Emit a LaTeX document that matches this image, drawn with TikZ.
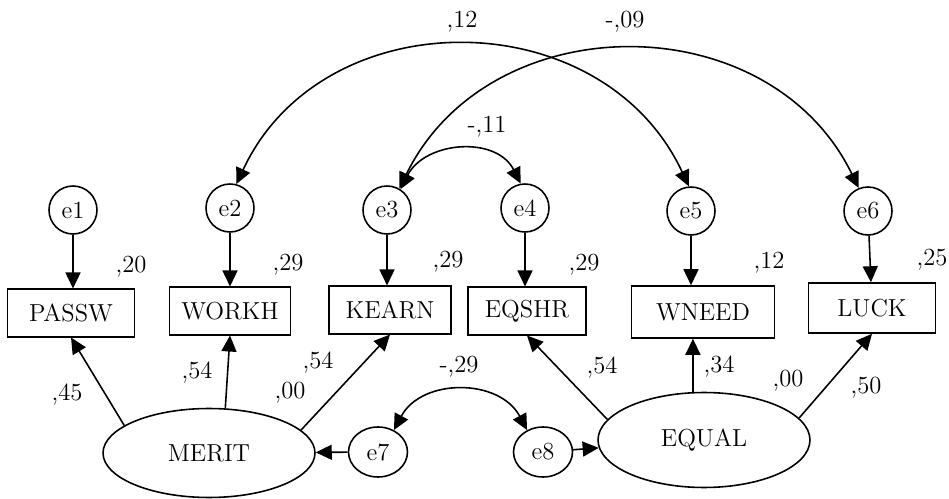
\documentclass[tikz,border=0pt]{standalone}
\usepackage{fontspec}
\usetikzlibrary{arrows.meta}
\usetikzlibrary{shapes.geometric}

\tikzset{
  every node/.style={font=\fontsize{14}{16}\selectfont},
  err/.style={draw,circle,line width=0.9pt,minimum size=0.96cm,inner sep=0pt},
  errb/.style={draw,ellipse,line width=0.9pt,minimum width=1.18cm,minimum height=1cm,inner sep=0pt},
  obs/.style={draw,rectangle,line width=0.9pt,minimum height=0.95cm},
  lat/.style={draw,ellipse,line width=0.9pt,minimum width=4.24cm,minimum height=1.78cm},
  reg/.style={line width=0.9pt,-{Triangle[length=3.2mm,width=3mm]}},
  cov/.style={line width=0.9pt,{Triangle[length=3.2mm,width=3mm]}-{Triangle[length=3.2mm,width=3mm]}},
  est/.style={inner sep=0pt}
}

\begin{document}
\begin{tikzpicture}[x=0.02cm,y=0.02cm]
\useasboundingbox (0,0) rectangle (949,-499);

% error terms
\node[err] (e1) at (73,-210) {e1};
\node[err] (e2) at (230,-208) {e2};
\node[err] (e3) at (387,-210) {e3};
\node[err] (e4) at (525,-208) {e4};
\node[err] (e5) at (691,-211) {e5};
\node[err] (e6) at (868,-211) {e6};

% observed
\node[obs,minimum width=2.54cm] (passw) at (71,-313) {PASSW};
\node[obs,minimum width=2.42cm] (workh) at (230,-311) {WORKH};
\node[obs,minimum width=2.44cm] (kearn) at (390,-310) {KEARN};
\node[obs,minimum width=2.36cm] (eqshr) at (527,-311) {EQSHR};
\node[obs,minimum width=2.86cm,minimum height=1.04cm] (wneed) at (703,-312) {WNEED};
\node[obs,minimum width=2.54cm,minimum height=1cm] (luck) at (872,-308) {LUCK};

% latent
\node[lat] (merit) at (209,-453) {MERIT};
\node[lat,minimum height=1.9cm] (equal) at (704,-440) {EQUAL};
\node[errb] (e7) at (378,-452) {e7};
\node[errb] (e8) at (543,-452) {e8};

\draw[reg] (e1) -- (e1 |- passw.north);
\draw[reg] (e2) -- (e2 |- workh.north);
\draw[reg] (e3) -- (e3 |- kearn.north);
\draw[reg] (e4) -- (e4 |- eqshr.north);
\draw[reg] (e5) -- (e5 |- wneed.north);
\draw[reg] (e6) -- (luck);

\draw[reg] (merit.162) -- (passw.south);
\draw[reg] (merit.70) -- (workh.south);
\draw[reg] (merit.14) -- (kearn.south);
\draw[reg] (equal.168) -- (eqshr.south);
\draw[reg] (equal.103) -- (equal.103 |- wneed.south);
\draw[reg] (equal.13) -- (luck.south);
\draw[reg] (e7) -- (merit);
\draw[reg] (e8) -- (equal);

% covariances
\draw[cov] (e7.54) .. controls +(62:59) and +(118:59) .. (e8.126);
\draw[cov] (e3.57) .. controls +(63:54) and +(117:54) .. (e4.100);
\draw[cov] (e2.75) .. controls +(65:205) and +(115:205) .. (e5.95);
\draw[cov] (e3.60) .. controls +(64:205) and +(116:205) .. (e6.112);

% estimates
\node[est] (r1) at (131,-267) {,20};
\node[est] (r2) at (288,-265) {,29};
\node[est] (r3) at (448,-262) {,29};
\node[est] (r4) at (584,-265) {,29};
\node[est] (r5) at (769,-263) {,12};
\node[est] (r6) at (932,-260) {,25};
\node[est] (l1) at (67,-395) {,45};
\node[est] (l2) at (197,-373) {,54};
\node[est] (l3) at (318,-363) {,54};
\node[est] (v1) at (290,-393) {,00};
\node[est] (l4) at (602,-368) {,54};
\node[est] (l5) at (719,-367) {,34};
\node[est] (v2) at (788,-381) {,00};
\node[est] (l6) at (866,-388) {,50};
\node[est] (c1) at (459,-367) {-,29};
\node[est] (c2) at (487,-127) {-,11};
\node[est] (c3) at (462,-22) {,12};
\node[est] (c4) at (625,-22) {-,09};

\end{tikzpicture}
\end{document}
